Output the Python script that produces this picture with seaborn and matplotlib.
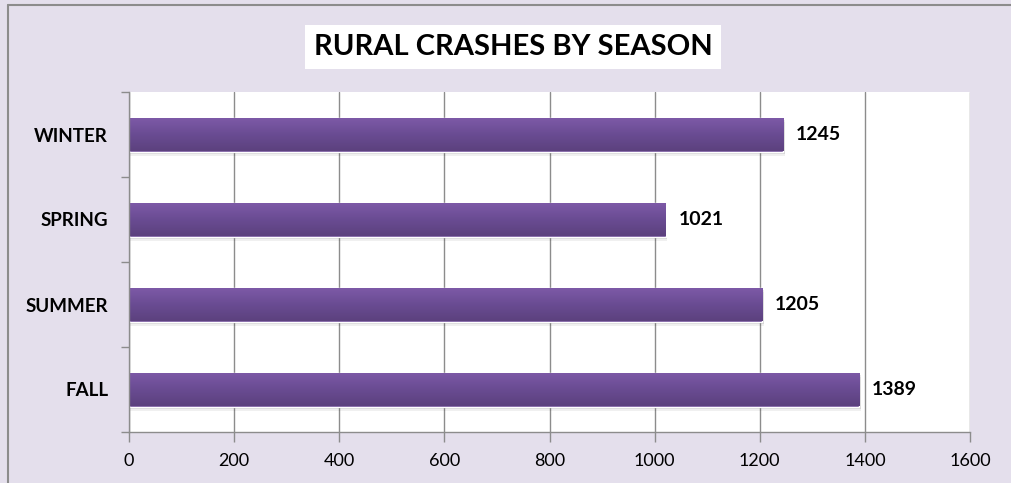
import numpy as np
import pandas as pd
import matplotlib
matplotlib.use("Agg")
import matplotlib.pyplot as plt
from matplotlib.colors import LinearSegmentedColormap
from matplotlib.lines import Line2D
import seaborn as sns

seasons = ["WINTER", "SPRING", "SUMMER", "FALL"]
crashes = [1245, 1021, 1205, 1389]
x_ticks = [0, 200, 400, 600, 800, 1000, 1200, 1400, 1600]
title = "RURAL CRASHES BY SEASON"

sns.set_theme(style="white")
plt.rcParams["font.family"] = ["Lato", "DejaVu Sans"]

bg = "#E4DFEC"
fig = plt.figure(figsize=(10.12, 4.83), dpi=100, facecolor=bg)
ax = fig.add_axes([129/1012, 1-432/483, (970-129)/1012, (432-92)/483])
ax.set_facecolor("white")

df = pd.DataFrame({"season": seasons, "crashes": crashes})
sns.barplot(data=df, y="season", x="crashes", orient="h", color="#70509A",
            width=0.4, ax=ax, saturation=1)

# gradient + soft shadow on bars
cmap = LinearSegmentedColormap.from_list("g", ["#7E5AA8", "#6A4C93", "#5C417E"])
grad = np.linspace(0, 1, 64).reshape(-1, 1)
for p in list(ax.patches):
    x0, y0 = p.get_x(), p.get_y()
    w, h = p.get_width(), p.get_height()
    for k, a in [(0.03, 0.10), (0.05, 0.06)]:
        sh = plt.Rectangle((x0, y0 + k), w + 3, h, color="#000000", alpha=a,
                           zorder=p.get_zorder() - 0.1, linewidth=0)
        ax.add_patch(sh)
    im = ax.imshow(grad, extent=[x0, x0 + w, y0 + h, y0], cmap=cmap,
                   aspect="auto", zorder=p.get_zorder() + 0.1, origin="upper")
    im.set_clip_path(p)

for i, v in enumerate(crashes):
    ax.text(v + 24, i, str(v), va="center", ha="left", fontsize=14,
            fontweight="bold", color="black")

ax.set_xlim(0, 1600)
ax.set_ylim(3.5, -0.5)
ax.set_xticks(x_ticks)
ax.set_xticklabels([str(t) for t in x_ticks], fontsize=13, color="black")
ax.set_yticks(range(len(seasons)))
ax.set_yticklabels(seasons, fontsize=13.5, fontweight="bold", color="black")
ax.set_yticks([-0.5, 0.5, 1.5, 2.5, 3.5], minor=True)
ax.tick_params(axis="y", which="major", length=0, pad=15)
ax.tick_params(axis="y", which="minor", length=6, width=1, color="#8C8C8C", left=True)
ax.tick_params(axis="x", which="major", length=7, width=1, color="#8C8C8C",
               bottom=True, pad=8)
ax.set_xlabel("")
ax.set_ylabel("")
ax.grid(axis="x", color="#8C8C8C", linewidth=1)
ax.set_axisbelow(True)
for s in ["top", "right"]:
    ax.spines[s].set_visible(False)
for s in ["left", "bottom"]:
    ax.spines[s].set_color("#8C8C8C")
    ax.spines[s].set_linewidth(1)

# title in white box
fig.text(513/1012, 1-47/483, title, ha="center", va="center", fontsize=21,
         fontweight="bold", color="black",
         bbox=dict(facecolor="white", edgecolor="none", boxstyle="square,pad=0.3"))

# outer border
fig.add_artist(Line2D([8/1012, 1], [1-5/483, 1-5/483], color="#8C8C8C", lw=1.5,
                      transform=fig.transFigure))
fig.add_artist(Line2D([8/1012, 8/1012], [0, 1-5/483], color="#8C8C8C", lw=1.5,
                      transform=fig.transFigure))

fig.savefig("out.png", dpi=100, facecolor=bg)
